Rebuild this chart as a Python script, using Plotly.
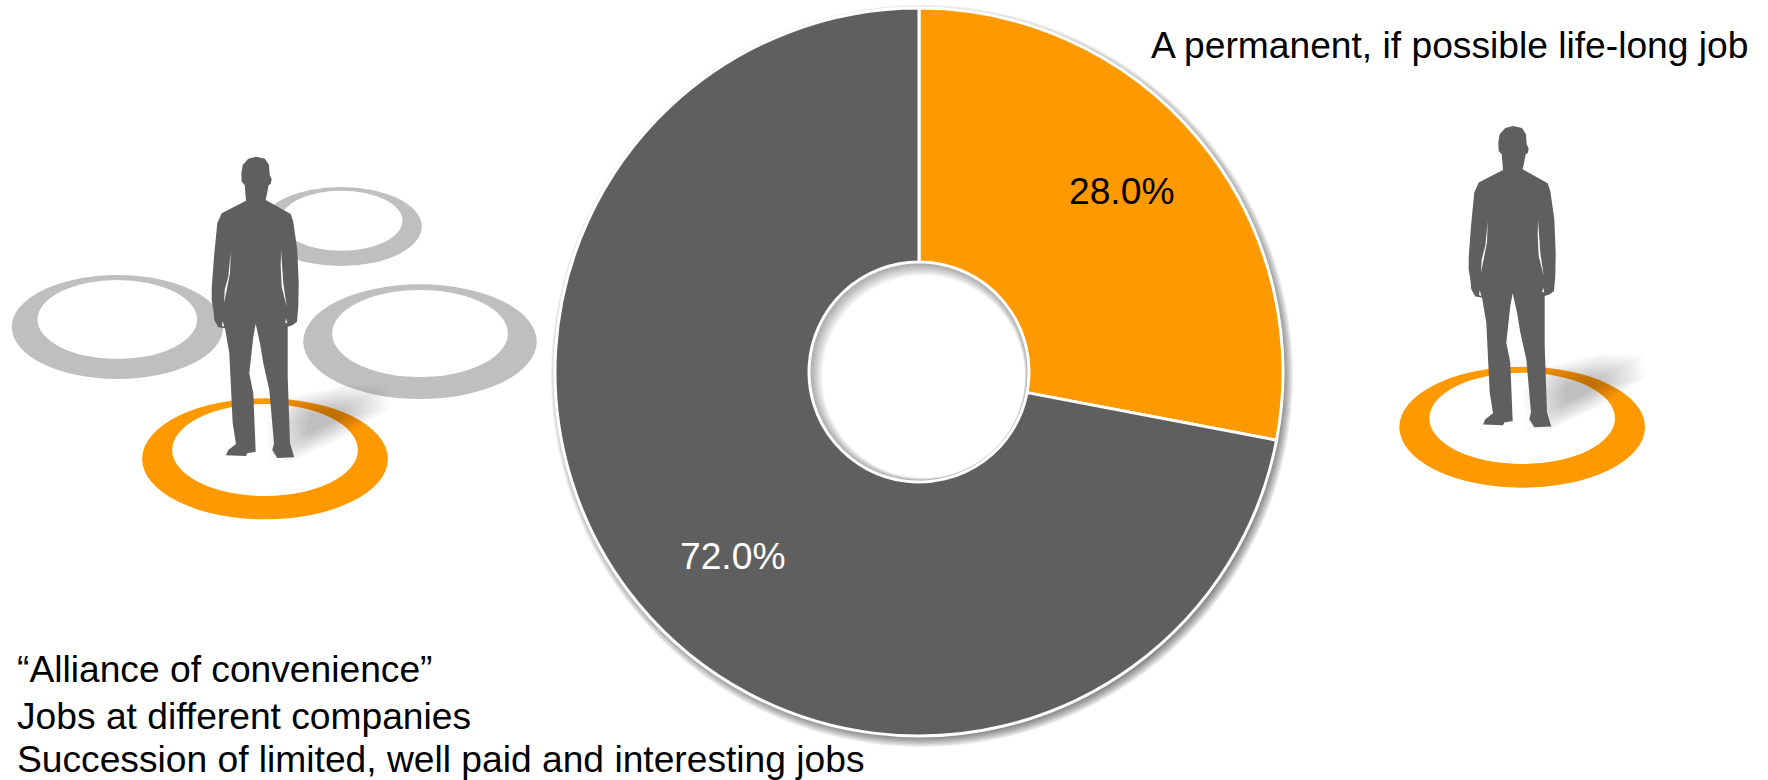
import math
import plotly.graph_objects as go

labels = ["A permanent, if possible life-long job", "Alliance of convenience"]
values = [28.0, 72.0]
colors = ["#FF9900", "#5F5F5F"]
ORANGE, GREY, DARK = "#FF9900", "#BFBFBF", "#5F5F5F"
W, H = 1768, 780
CX, CY, R, RH = 919, 372, 364, 110

top_text = "A permanent, if possible life-long job"
bottom_lines = ["“Alliance of convenience”", "Jobs at different companies",
                "Succession of limited, well paid and interesting jobs"]

upper_a = [(168,20),(195,26),(207,45),(209,75),(215,88),(212,102),(206,105),(197,150),(272,192),(280,215),(292,300),(296,400),(295,470)]
lower = [(291,35),(278,45),(263,50),(263,200),(270,400),(283,442),(232,444),(217,420),(222,400),(208,240),(190,160),(180,100),
         (167,42),(160,80),(148,190),(160,250),(167,425),(142,430),(138,438),(78,436),(85,420),(108,402),(98,340),(88,130),(75,55),(55,52),(43,30)]
upper_b = [(40,480),(35,450),(35,415),(42,320),(52,220),(65,190),(138,152),(134,105),(125,95),(124,70),(128,45),(145,26)]
slit_ru = [(243,300),(250,400),(260,470),(245,410),(242,350)]
slit_lu = [(92,305),(90,370),(72,460),(74,420),(85,380)]
slit_hl = [(68,33),(73,50),(66,47)]
slit_hr = [(258,25),(262,40),(256,38)]
shadow = [(780,975),(830,975),(950,915),(1060,840),(1050,785),(960,780),(810,815),(770,880)]

def U(p): return (200+p[0]/3, 150+p[1]/3)
def L(p): return (200+p[0]/3, 310+p[1]/3)
person = [U(p) for p in upper_a]+[L(p) for p in lower]+[U(p) for p in upper_b]
slits = [[U(p) for p in slit_ru],[U(p) for p in slit_lu],[L(p) for p in slit_hl],[L(p) for p in slit_hr]]

def poly(pts, fx):
    return "M" + " L".join(f"{fx(p)[0]:.1f},{fx(p)[1]:.1f}" for p in pts) + " Z"

def z1(p): return (p[0]/2.8, 130+p[1]/3)
def z2(p): return (1380+400/3+(p[0]-718)/2.8, 100+78/3+(p[1]-80)/3)
def z2s(p): return (1380+p[0]/3, 100+p[1]/3)
def p1(p): return p
def p2(p): return (p[0]+1257, p[1]-30.7)

def circle_pts(cx, cy, r, n=180):
    return [(cx+r*math.cos(2*math.pi*i/n), cy+r*math.sin(2*math.pi*i/n)) for i in range(n)]

ident = lambda p: p
shapes = []
def ell(x0,x1,y0,y1,fx,color):
    a, b = fx((x0,y0)), fx((x1,y1))
    shapes.append(dict(type="circle",xref="x",yref="y",x0=a[0],y0=a[1],x1=b[0],y1=b[1],fillcolor=color,line_width=0,layer="below"))

# soft shadow of the pie
for i in range(8):
    r = R+7-i*1.3
    shapes.append(dict(type="circle",xref="x",yref="y",x0=CX+3-r,x1=CX+3+r,y0=CY+4-r,y1=CY+4+r,
                       fillcolor="rgba(0,0,0,0.07)",line_width=0,layer="below"))
shapes.append(dict(type="circle",xref="x",yref="y",x0=CX-RH,x1=CX+RH,y0=CY-RH,y1=CY+RH,fillcolor="white",line_width=0,layer="below"))

for ring in [(33,625,435,747,105,552,450,687,GREY),(729,1181,171,408,785,1127,182,362,GREY),
             (849,1503,463,807,930,1422,480,741,GREY),(398,1086,805,1168,482,1002,822,1098,ORANGE)]:
    ell(ring[0],ring[1],ring[2],ring[3],z1,ring[8])
    ell(ring[4],ring[5],ring[6],ring[7],z1,"white")
ell(58,795,800,1163,z2s,ORANGE)
ell(148,705,818,1092,z2s,"white")

def add_shadow(fx):
    cx = sum(p[0] for p in shadow)/len(shadow); cy = sum(p[1] for p in shadow)/len(shadow)
    for k in range(16):
        s = 1.2-k*0.058
        pts = [(cx+(p[0]-cx)*s, cy+(p[1]-cy)*s) for p in shadow]
        shapes.append(dict(type="path",xref="x",yref="y",path=poly(pts,fx),
                           fillcolor="rgba(0,0,0,0.014)",line_width=0,layer="below"))
add_shadow(z1)
add_shadow(z2)

for fx in (p1, p2):
    shapes.append(dict(type="path",xref="x",yref="y",path=poly(person,fx),fillcolor=DARK,line_width=0,layer="below"))
    for sl in slits:
        shapes.append(dict(type="path",xref="x",yref="y",path=poly(sl,fx),fillcolor="white",line_width=0,layer="below"))

# inner shadow of the hole, above the pie
for i in range(8):
    r0 = RH-1.5; r1 = r0-1-i*0.9
    d = (r0-r1)*0.62
    p = poly(circle_pts(CX,CY,r0),ident)+" "+poly(circle_pts(CX+d,CY+d,r1),ident)
    shapes.append(dict(type="path",xref="x",yref="y",path=p,fillcolor="rgba(0,0,0,0.045)",line_width=0,layer="above"))

anns = [
    dict(x=1121,y=191,text=f"{values[0]:.1f}%",font=dict(color="black")),
    dict(x=732,y=556,text=f"{values[1]:.1f}%",font=dict(color="white")),
    dict(x=1149,y=45,text=top_text,xanchor="left",font=dict(color="black")),
]
for txt, y in zip(bottom_lines, [669, 716, 759]):
    anns.append(dict(x=15,y=y,text=txt,xanchor="left",font=dict(color="black")))
for a in anns:
    a.update(xref="x",yref="y",showarrow=False)
    a.setdefault("xanchor","center")
    a["font"].update(family="Liberation Sans",size=37.2)

fig = go.Figure(go.Pie(labels=labels,values=values,hole=RH/R,sort=False,direction="clockwise",rotation=0,
                       marker=dict(colors=colors,line=dict(color="white",width=3)),textposition="none",
                       showlegend=False,hoverinfo="label+percent",
                       domain=dict(x=[(CX-R)/W,(CX+R)/W],y=[1-(CY+R)/H,1-(CY-R)/H])))
fig.update_layout(width=W,height=H,margin=dict(l=0,r=0,t=0,b=0),paper_bgcolor="white",plot_bgcolor="white",
                  xaxis=dict(range=[0,W],visible=False,fixedrange=True),
                  yaxis=dict(range=[H,0],visible=False,fixedrange=True),
                  shapes=shapes,annotations=anns,showlegend=False)
fig.add_trace(go.Scatter(x=[0,W],y=[0,H],mode="markers",marker=dict(opacity=0),hoverinfo="skip",showlegend=False))
fig.write_html("out.html",config=dict(displayModeBar=False),post_script="document.body.style.margin='0';")
